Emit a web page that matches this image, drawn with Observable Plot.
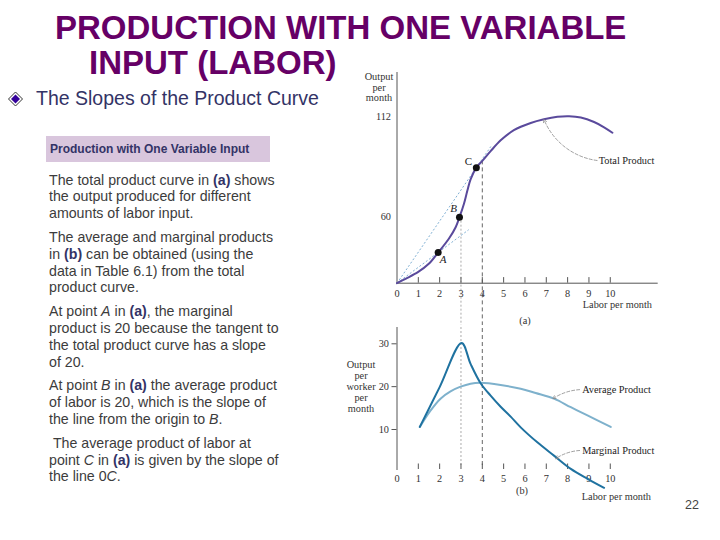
<!DOCTYPE html>
<html><head><meta charset="utf-8">
<script src="https://cdn.jsdelivr.net/npm/d3@7"></script>
<script src="https://cdn.jsdelivr.net/npm/@observablehq/plot@0.6"></script>
<style>
body{margin:0;background:#fff;}
#slide{position:relative;width:720px;height:540px;overflow:hidden;background:#fff;font-family:"Liberation Sans",Arial,sans-serif;}
.abs{position:absolute;white-space:nowrap;}
.title{font-weight:bold;font-size:33px;line-height:33px;color:#660066;}
.sub{font-size:19.5px;line-height:20px;color:#333366;}
.hdr{background:#d9c6dd;color:#333366;font-weight:bold;font-size:12px;line-height:26px;padding-left:4px;box-sizing:border-box;}
#body{font-size:14.2px;line-height:16.8px;color:#3c3c3c;}
#body p{margin:0 0 7px 0;}
#body b{color:#333366;}
.ser{font-family:"Liberation Serif","Times New Roman",serif;font-size:10.3px;line-height:10.5px;color:#333;}
.chart{position:absolute;}
.chart svg{display:block;}
</style></head>
<body><div id="slide">
<div class="abs title" style="left:55px;top:11px;">PRODUCTION WITH ONE VARIABLE</div>
<div class="abs title" style="left:89px;top:46px;">INPUT (LABOR)</div>
<svg class="abs" style="left:7px;top:91px" width="17" height="16"><polygon points="8.5,1 15.5,8 8.5,15 1.5,8" fill="none" stroke="#333" stroke-width="1"/><polygon points="8.5,3.5 13,8 8.5,12.5 4,8" fill="#330099"/></svg>
<div class="abs sub" style="left:36px;top:88px;">The Slopes of the Product Curve</div>
<div class="abs hdr" style="left:46px;top:136px;width:224px;height:26px;">Production with One Variable Input</div>
<div id="body" class="abs" style="left:49px;top:171.7px;">
<p>The total product curve in <b>(a)</b> shows<br>the output produced for different<br>amounts of labor input.</p>
<p>The average and marginal products<br>in <b>(b)</b> can be obtained (using the<br>data in Table 6.1) from the total<br>product curve.</p>
<p>At point <i>A</i> in <b>(a)</b>, the marginal<br>product is 20 because the tangent to<br>the total product curve has a slope<br>of 20.</p>
<p>At point <i>B</i> in <b>(a)</b> the average product<br>of labor is 20, which is the slope of<br>the line from the origin to <i>B</i>.</p>
<p>&nbsp;The average product of labor at<br>point <i>C</i> in <b>(a)</b> is given by the slope of<br>the line 0<i>C</i>.</p>
</div>
<div id="chartA" class="chart" style="left:340px;top:60px;"></div>
<div id="chartB" class="chart" style="left:340px;top:325px;"></div>
<div class="abs ser" style="left:354px;top:72.4px;width:50px;text-align:center;">Output<br>per<br>month</div>
<div class="abs ser" style="left:552px;top:299.9px;width:100px;text-align:right;">Labor per month</div>
<div class="abs ser" style="left:505px;top:316.4px;width:40px;text-align:center;">(a)</div>
<div class="abs ser" style="left:331px;top:359.4px;width:60px;text-align:center;line-height:11px;">Output<br>per<br>worker<br>per<br>month</div>
<div class="abs ser" style="left:551px;top:491.9px;width:100px;text-align:right;">Labor per month</div>
<div class="abs ser" style="left:502px;top:486.4px;width:40px;text-align:center;">(b)</div>
<div class="abs" style="left:685px;top:499.2px;font-size:12.5px;line-height:13px;color:#444;">22</div>
</div>
<script>
// ---- data: panel (a) total product ----
const tpLabor  = [0, 0.4, 0.98, 1.49, 1.93, 2.43, 2.75, 2.93, 3.14, 3.30, 3.45, 3.72, 4.0, 4.39, 4.86, 5.48, 6.27, 6.89, 7.52, 8.07, 8.62, 9.24, 9.71, 10.1];
const tpOutput = [0, 4, 10, 17.6, 27.9, 40.4, 50.9, 60, 66.9, 73.7, 79.5, 85.5, 89, 94, 99.6, 104.8, 108.5, 110.4, 111.7, 112, 111.3, 109, 106.3, 103.5];
const pointNames  = ["A", "B", "C"];
const pointLabor  = [1.93, 2.93, 3.72];
const pointOutput = [27.9, 60, 85.5];
const rayEndLabor  = [3.36, 4.4];
const rayEndOutput = [48.6, 96.4];
const xTickLabels = [0,1,2,3,4,5,6,7,8,9,10];
const xTickMarks  = [1,2,3,4,5,6,7,8,9,10];
const yTicksA = [60, 112];
// ---- data: panel (b) average and marginal product ----
const apLabor  = [1.07, 1.57, 2.04, 2.51, 2.98, 3.45, 3.92, 4.86, 5.80, 6.50, 7.36, 8.15, 8.93, 10.02];
const apOutput = [10.6, 14.4, 17.2, 18.9, 20.0, 20.7, 20.9, 20.4, 19.5, 18.5, 17.2, 15.2, 13.3, 10.6];
const mpLabor  = [1.07, 2.0, 3.03, 3.45, 3.92, 4.39, 4.86, 5.33, 5.80, 6.58, 7.36, 8.15, 8.93, 9.71];
const mpOutput = [10.6, 19.9, 30.2, 25.3, 20.8, 17.9, 15.3, 13.0, 10.5, 7.0, 3.9, 0.8, -1.5, -3.6];
const yTicksB = [10, 20, 30];
// annotation anchors (data units)
const curveNames = ["Total Product", "Average Product", "Marginal Product"];
const labelLabor = [9.46, 8.68, 8.68];
const labelOutput = [89.2, 19.3, 5.1];
const tipLabor = [6.89, 7.31, 7.44];
const tipOutput = [110.3, 17.2, 3.2];
const arrowStartLabor = [9.38, 8.56, 8.56];

const tp = tpLabor.map((x, i) => ({x, y: tpOutput[i]}));
const pts = pointNames.map((n, i) => ({n, x: pointLabor[i], y: pointOutput[i]}));
const rays = rayEndLabor.map((x, i) => ({x, y: rayEndOutput[i]}));
const ap = apLabor.map((x, i) => ({x, y: apOutput[i]}));
const mp = mpLabor.map((x, i) => ({x, y: mpOutput[i]}));
const tpAt4 = tpOutput[tpLabor.indexOf(4.0)];
const serif = "'Liberation Serif','Times New Roman',serif";
const axisStyle = {fontFamily: serif, fontSize: "10.3px", color: "#333", background: "transparent", overflow: "hidden"};
// the textbook figure's output axis is drawn with a break in spacing above 60
const bent = v => v <= 60 ? v * 1.1 : 66 + (v - 60) * 1.942;
const ptLabel = (n, dx, dy, fontStyle) => Plot.text(pts.filter(d => d.n === n), {x: "x", y: "y", text: "n", dx, dy, fontStyle, fontSize: 11, fill: "#222"});

const chartA = Plot.plot({
  width: 330, height: 265,
  marginLeft: 56.5, marginRight: 13.3, marginTop: 12, marginBottom: 42.3,
  x: {domain: [0, 12.2]},
  y: {transform: bent, domain: [0, 167], range: [222.7, 55.7]},
  style: axisStyle,
  marks: [
    Plot.ruleX([3], {y1: 60, y2: -60, stroke: "#aaa", strokeDasharray: "2,2"}),
    Plot.ruleX([4], {y1: tpAt4, y2: -60, stroke: "#666", strokeDasharray: "4,3"}),
    Plot.frame({anchor: "left", stroke: "#555"}),
    Plot.frame({anchor: "bottom", stroke: "#555"}),
    Plot.axisX({ticks: xTickMarks, tickSize: -5.6, tickFormat: () => "", label: null, stroke: "#555"}),
    Plot.axisX({ticks: xTickLabels, tickSize: 0, tickPadding: 6, label: null}),
    Plot.axisY({ticks: yTicksA.map(bent), tickFormat: (d, i) => String(yTicksA[i]), tickSize: 0, tickPadding: 6, label: null}),
    Plot.link(rays, {x1: 0, y1: 0, x2: "x", y2: "y", stroke: "#7fb0d4", strokeDasharray: "2,2", strokeWidth: 1}),
    Plot.line(tp, {x: "x", y: "y", stroke: "#5a4a9c", strokeWidth: 2, curve: "catmull-rom"}),
    Plot.dot(pts, {x: "x", y: "y", r: 3.5, fill: "#111"}),
    ptLabel("A", 5, 7, "italic"),
    ptLabel("B", -6, -9, "italic"),
    ptLabel("C", -8, -6, "normal"),
    Plot.arrow([0], {x1: arrowStartLabor[0], y1: labelOutput[0], x2: tipLabor[0], y2: tipOutput[0], bend: 30, stroke: "#888", strokeWidth: 0.8, strokeDasharray: "3,2", headLength: 6}),
    Plot.text([0], {x: labelLabor[0], y: labelOutput[0], text: () => curveNames[0], textAnchor: "start", fill: "#222", fontSize: 10.3})
  ]
});
document.getElementById("chartA").append(chartA);

const chartB = Plot.plot({
  width: 330, height: 190,
  marginLeft: 56.5, marginRight: 13.3, marginTop: 2, marginBottom: 46,
  x: {domain: [0, 12.2]},
  y: {domain: [10, 30], range: [104, 18.3]},
  style: axisStyle,
  marks: [
    Plot.ruleX([3], {y1: 45, y2: 1.15, stroke: "#aaa", strokeDasharray: "2,2"}),
    Plot.ruleX([4], {y1: 45, y2: 1.15, stroke: "#666", strokeDasharray: "4,3"}),
    Plot.frame({anchor: "left", stroke: "#555"}),
    Plot.axisX({ticks: xTickMarks, tickSize: -5.5, tickFormat: () => "", label: null, stroke: "#555"}),
    Plot.axisX({ticks: xTickLabels, tickSize: 0, tickPadding: 5.2, label: null}),
    Plot.axisY({ticks: yTicksB, tickSize: 5, tickPadding: 3, label: null, stroke: "#555"}),
    Plot.line(ap, {x: "x", y: "y", stroke: "#7eb1cc", strokeWidth: 2, curve: "catmull-rom"}),
    Plot.line(mp, {x: "x", y: "y", stroke: "#1f72a0", strokeWidth: 2, curve: "catmull-rom"}),
    Plot.arrow([1, 2], {x1: i => arrowStartLabor[i], y1: i => labelOutput[i], x2: i => tipLabor[i], y2: i => tipOutput[i], bend: -15, stroke: "#888", strokeWidth: 0.8, strokeDasharray: "3,2", headLength: 6}),
    Plot.text([1, 2], {x: i => labelLabor[i], y: i => labelOutput[i], text: i => curveNames[i], textAnchor: "start", fill: "#222", fontSize: 10.3})
  ]
});
document.getElementById("chartB").append(chartB);
</script>
</body></html>
